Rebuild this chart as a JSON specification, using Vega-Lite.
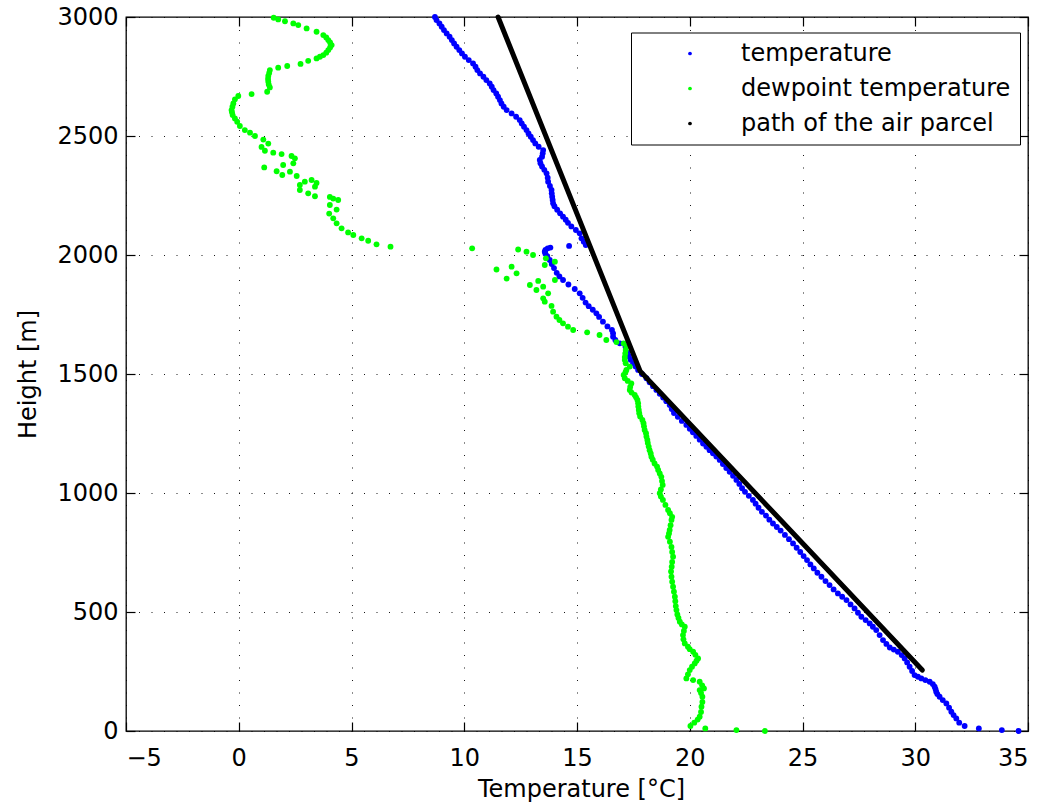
{
  "$schema": "https://vega.github.io/schema/vega-lite/v6.json",
  "width": 902,
  "height": 714,
  "autosize": {"type": "none"},
  "padding": {"left": 126, "top": 17, "right": 21, "bottom": 81},
  "background": "white",
  "config": {
    "view": {"stroke": "#000000", "strokeWidth": 1.3},
    "font": "DejaVu Sans",
    "axis": {
      "domain": false,
      "labelFont": "DejaVu Sans",
      "labelFontSize": 24,
      "labelColor": "#000000",
      "titleFont": "DejaVu Sans",
      "titleFontSize": 24,
      "titleFontWeight": "normal",
      "titleColor": "#000000",
      "tickColor": "#000000",
      "tickWidth": 1.2,
      "tickSize": -9,
      "gridColor": "#000000",
      "gridDash": [1, 11.5],
      "gridWidth": 1,
      "gridOpacity": 0.9
    }
  },
  "datasets": {
    "pts": [
      {"s":"temperature","T":34.58,"h":0},{"s":"temperature","T":33.84,"h":4},{"s":"temperature","T":32.82,"h":11},{"s":"temperature","T":32.19,"h":21},
      {"s":"temperature","T":31.95,"h":35},{"s":"temperature","T":31.82,"h":53},{"s":"temperature","T":31.7,"h":67},{"s":"temperature","T":31.6,"h":81},
      {"s":"temperature","T":31.5,"h":98},{"s":"temperature","T":31.38,"h":116},{"s":"temperature","T":31.22,"h":130},{"s":"temperature","T":31.08,"h":144},
      {"s":"temperature","T":30.98,"h":155},{"s":"temperature","T":30.93,"h":165},{"s":"temperature","T":30.9,"h":176},{"s":"temperature","T":30.86,"h":186},
      {"s":"temperature","T":30.78,"h":197},{"s":"temperature","T":30.64,"h":207},{"s":"temperature","T":30.45,"h":214},{"s":"temperature","T":30.27,"h":221},
      {"s":"temperature","T":30.12,"h":228},{"s":"temperature","T":29.97,"h":235},{"s":"temperature","T":29.86,"h":252},{"s":"temperature","T":29.75,"h":270},
      {"s":"temperature","T":29.64,"h":288},{"s":"temperature","T":29.53,"h":305},{"s":"temperature","T":29.4,"h":319},{"s":"temperature","T":29.23,"h":333},
      {"s":"temperature","T":29.05,"h":342},{"s":"temperature","T":28.87,"h":351},{"s":"temperature","T":28.72,"h":366},{"s":"temperature","T":28.57,"h":382},
      {"s":"temperature","T":28.42,"h":403},{"s":"temperature","T":28.27,"h":424},{"s":"temperature","T":28.12,"h":438},{"s":"temperature","T":27.98,"h":452},
      {"s":"temperature","T":27.8,"h":466},{"s":"temperature","T":27.61,"h":480},{"s":"temperature","T":27.46,"h":497},{"s":"temperature","T":27.31,"h":515},
      {"s":"temperature","T":27.13,"h":532},{"s":"temperature","T":26.95,"h":550},{"s":"temperature","T":26.76,"h":564},{"s":"temperature","T":26.57,"h":578},
      {"s":"temperature","T":26.38,"h":595},{"s":"temperature","T":26.2,"h":613},{"s":"temperature","T":26.02,"h":630},{"s":"temperature","T":25.84,"h":648},
      {"s":"temperature","T":25.66,"h":665},{"s":"temperature","T":25.5,"h":683},{"s":"temperature","T":25.35,"h":700},{"s":"temperature","T":25.2,"h":718},
      {"s":"temperature","T":25.05,"h":735},{"s":"temperature","T":24.9,"h":752},{"s":"temperature","T":24.74,"h":770},{"s":"temperature","T":24.58,"h":788},
      {"s":"temperature","T":24.4,"h":806},{"s":"temperature","T":24.22,"h":824},{"s":"temperature","T":24.03,"h":842},{"s":"temperature","T":23.86,"h":857},
      {"s":"temperature","T":23.69,"h":872},{"s":"temperature","T":23.53,"h":888},{"s":"temperature","T":23.38,"h":905},{"s":"temperature","T":23.2,"h":921},
      {"s":"temperature","T":23.05,"h":938},{"s":"temperature","T":22.92,"h":955},{"s":"temperature","T":22.8,"h":971},{"s":"temperature","T":22.62,"h":988},
      {"s":"temperature","T":22.45,"h":1005},{"s":"temperature","T":22.32,"h":1020},{"s":"temperature","T":22.2,"h":1038},{"s":"temperature","T":22.07,"h":1055},
      {"s":"temperature","T":21.92,"h":1072},{"s":"temperature","T":21.77,"h":1089},{"s":"temperature","T":21.62,"h":1105},{"s":"temperature","T":21.47,"h":1122},
      {"s":"temperature","T":21.33,"h":1139},{"s":"temperature","T":21.18,"h":1153},{"s":"temperature","T":21.03,"h":1167},{"s":"temperature","T":20.88,"h":1180},
      {"s":"temperature","T":20.74,"h":1194},{"s":"temperature","T":20.59,"h":1208},{"s":"temperature","T":20.44,"h":1224},{"s":"temperature","T":20.29,"h":1240},
      {"s":"temperature","T":20.14,"h":1255},{"s":"temperature","T":20.0,"h":1270},{"s":"temperature","T":19.85,"h":1286},{"s":"temperature","T":19.65,"h":1303},
      {"s":"temperature","T":19.47,"h":1320},{"s":"temperature","T":19.3,"h":1336},{"s":"temperature","T":19.2,"h":1353},{"s":"temperature","T":19.11,"h":1370},
      {"s":"temperature","T":18.96,"h":1386},{"s":"temperature","T":18.82,"h":1401},{"s":"temperature","T":18.67,"h":1417},{"s":"temperature","T":18.52,"h":1433},
      {"s":"temperature","T":18.37,"h":1449},{"s":"temperature","T":18.22,"h":1465},{"s":"temperature","T":18.08,"h":1482},{"s":"temperature","T":17.88,"h":1500},
      {"s":"temperature","T":17.71,"h":1517},{"s":"temperature","T":17.6,"h":1531},{"s":"temperature","T":17.49,"h":1545},{"s":"temperature","T":17.38,"h":1560},
      {"s":"temperature","T":17.3,"h":1575},{"s":"temperature","T":17.25,"h":1590},{"s":"temperature","T":17.15,"h":1615},{"s":"temperature","T":16.9,"h":1629},
      {"s":"temperature","T":16.7,"h":1643},{"s":"temperature","T":16.6,"h":1657},{"s":"temperature","T":16.6,"h":1671},{"s":"temperature","T":16.55,"h":1685},
      {"s":"temperature","T":16.35,"h":1700},{"s":"temperature","T":16.15,"h":1720},{"s":"temperature","T":15.98,"h":1740},{"s":"temperature","T":15.86,"h":1755},
      {"s":"temperature","T":15.7,"h":1770},{"s":"temperature","T":15.52,"h":1785},{"s":"temperature","T":15.38,"h":1800},{"s":"temperature","T":15.25,"h":1820},
      {"s":"temperature","T":15.12,"h":1839},{"s":"temperature","T":14.9,"h":1857},{"s":"temperature","T":14.62,"h":1876},{"s":"temperature","T":14.38,"h":1895},
      {"s":"temperature","T":14.22,"h":1910},{"s":"temperature","T":14.1,"h":1925},{"s":"temperature","T":13.98,"h":1945},{"s":"temperature","T":13.88,"h":1962},
      {"s":"temperature","T":13.79,"h":1979},{"s":"temperature","T":13.68,"h":1995},{"s":"temperature","T":13.6,"h":2005},{"s":"temperature","T":13.57,"h":2014},
      {"s":"temperature","T":13.6,"h":2021},{"s":"temperature","T":13.7,"h":2028},{"s":"temperature","T":13.82,"h":2031},{"s":"temperature","T":14.65,"h":2038},
      {"s":"temperature","T":15.39,"h":2042},{"s":"temperature","T":15.3,"h":2056},{"s":"temperature","T":15.2,"h":2070},{"s":"temperature","T":15.12,"h":2091},
      {"s":"temperature","T":14.95,"h":2105},{"s":"temperature","T":14.75,"h":2120},{"s":"temperature","T":14.6,"h":2135},{"s":"temperature","T":14.5,"h":2148},
      {"s":"temperature","T":14.38,"h":2161},{"s":"temperature","T":14.25,"h":2175},{"s":"temperature","T":14.12,"h":2190},{"s":"temperature","T":14.0,"h":2205},
      {"s":"temperature","T":13.94,"h":2217},{"s":"temperature","T":13.92,"h":2231},{"s":"temperature","T":13.9,"h":2245},{"s":"temperature","T":13.88,"h":2259},
      {"s":"temperature","T":13.87,"h":2273},{"s":"temperature","T":13.8,"h":2290},{"s":"temperature","T":13.72,"h":2308},{"s":"temperature","T":13.7,"h":2325},
      {"s":"temperature","T":13.65,"h":2343},{"s":"temperature","T":13.55,"h":2358},{"s":"temperature","T":13.45,"h":2372},{"s":"temperature","T":13.38,"h":2386},
      {"s":"temperature","T":13.35,"h":2399},{"s":"temperature","T":13.45,"h":2413},{"s":"temperature","T":13.48,"h":2427},{"s":"temperature","T":13.5,"h":2441},
      {"s":"temperature","T":13.3,"h":2455},{"s":"temperature","T":13.15,"h":2469},{"s":"temperature","T":13.05,"h":2483},{"s":"temperature","T":12.95,"h":2497},
      {"s":"temperature","T":12.85,"h":2511},{"s":"temperature","T":12.76,"h":2525},{"s":"temperature","T":12.65,"h":2539},{"s":"temperature","T":12.55,"h":2553},
      {"s":"temperature","T":12.46,"h":2567},{"s":"temperature","T":12.3,"h":2581},{"s":"temperature","T":12.1,"h":2595},{"s":"temperature","T":11.88,"h":2609},
      {"s":"temperature","T":11.75,"h":2623},{"s":"temperature","T":11.65,"h":2637},{"s":"temperature","T":11.58,"h":2651},{"s":"temperature","T":11.5,"h":2665},
      {"s":"temperature","T":11.42,"h":2679},{"s":"temperature","T":11.3,"h":2693},{"s":"temperature","T":11.22,"h":2707},{"s":"temperature","T":11.13,"h":2721},
      {"s":"temperature","T":10.98,"h":2735},{"s":"temperature","T":10.85,"h":2749},{"s":"temperature","T":10.7,"h":2763},{"s":"temperature","T":10.58,"h":2777},
      {"s":"temperature","T":10.5,"h":2791},{"s":"temperature","T":10.39,"h":2805},{"s":"temperature","T":10.2,"h":2819},{"s":"temperature","T":10.03,"h":2833},
      {"s":"temperature","T":9.9,"h":2847},{"s":"temperature","T":9.78,"h":2861},{"s":"temperature","T":9.66,"h":2875},{"s":"temperature","T":9.55,"h":2889},
      {"s":"temperature","T":9.45,"h":2903},{"s":"temperature","T":9.35,"h":2917},{"s":"temperature","T":9.22,"h":2931},{"s":"temperature","T":9.1,"h":2945},
      {"s":"temperature","T":9.0,"h":2959},{"s":"temperature","T":8.9,"h":2973},{"s":"temperature","T":8.77,"h":2987},{"s":"temperature","T":8.7,"h":3000},
      {"s":"dewpoint temperature","T":23.33,"h":0},{"s":"dewpoint temperature","T":22.07,"h":4},{"s":"dewpoint temperature","T":20.69,"h":11},{"s":"dewpoint temperature","T":20.03,"h":21},
      {"s":"dewpoint temperature","T":20.2,"h":35},{"s":"dewpoint temperature","T":20.35,"h":48},{"s":"dewpoint temperature","T":20.44,"h":60},{"s":"dewpoint temperature","T":20.5,"h":80},
      {"s":"dewpoint temperature","T":20.52,"h":102},{"s":"dewpoint temperature","T":20.56,"h":122},{"s":"dewpoint temperature","T":20.56,"h":144},{"s":"dewpoint temperature","T":20.5,"h":160},
      {"s":"dewpoint temperature","T":20.44,"h":172},{"s":"dewpoint temperature","T":20.63,"h":179},{"s":"dewpoint temperature","T":20.55,"h":192},{"s":"dewpoint temperature","T":20.44,"h":207},
      {"s":"dewpoint temperature","T":20.15,"h":214},{"s":"dewpoint temperature","T":19.85,"h":221},{"s":"dewpoint temperature","T":19.92,"h":238},{"s":"dewpoint temperature","T":20.0,"h":256},
      {"s":"dewpoint temperature","T":20.1,"h":270},{"s":"dewpoint temperature","T":20.22,"h":284},{"s":"dewpoint temperature","T":20.3,"h":295},{"s":"dewpoint temperature","T":20.37,"h":305},
      {"s":"dewpoint temperature","T":20.25,"h":320},{"s":"dewpoint temperature","T":20.15,"h":333},{"s":"dewpoint temperature","T":20.0,"h":344},{"s":"dewpoint temperature","T":19.92,"h":354},
      {"s":"dewpoint temperature","T":19.78,"h":368},{"s":"dewpoint temperature","T":19.72,"h":385},{"s":"dewpoint temperature","T":19.7,"h":403},{"s":"dewpoint temperature","T":19.74,"h":420},
      {"s":"dewpoint temperature","T":19.78,"h":438},{"s":"dewpoint temperature","T":19.65,"h":448},{"s":"dewpoint temperature","T":19.56,"h":459},{"s":"dewpoint temperature","T":19.5,"h":475},
      {"s":"dewpoint temperature","T":19.45,"h":490},{"s":"dewpoint temperature","T":19.41,"h":508},{"s":"dewpoint temperature","T":19.38,"h":525},{"s":"dewpoint temperature","T":19.36,"h":545},
      {"s":"dewpoint temperature","T":19.34,"h":564},{"s":"dewpoint temperature","T":19.3,"h":585},{"s":"dewpoint temperature","T":19.26,"h":606},{"s":"dewpoint temperature","T":19.22,"h":627},
      {"s":"dewpoint temperature","T":19.19,"h":648},{"s":"dewpoint temperature","T":19.17,"h":670},{"s":"dewpoint temperature","T":19.2,"h":690},{"s":"dewpoint temperature","T":19.22,"h":710},
      {"s":"dewpoint temperature","T":19.26,"h":732},{"s":"dewpoint temperature","T":19.22,"h":752},{"s":"dewpoint temperature","T":19.19,"h":773},{"s":"dewpoint temperature","T":19.12,"h":795},
      {"s":"dewpoint temperature","T":19.04,"h":816},{"s":"dewpoint temperature","T":19.08,"h":830},{"s":"dewpoint temperature","T":19.11,"h":845},{"s":"dewpoint temperature","T":19.15,"h":865},
      {"s":"dewpoint temperature","T":19.19,"h":887},{"s":"dewpoint temperature","T":19.22,"h":900},{"s":"dewpoint temperature","T":19.12,"h":915},{"s":"dewpoint temperature","T":19.04,"h":929},
      {"s":"dewpoint temperature","T":18.92,"h":950},{"s":"dewpoint temperature","T":18.81,"h":971},{"s":"dewpoint temperature","T":18.72,"h":985},{"s":"dewpoint temperature","T":18.67,"h":999},
      {"s":"dewpoint temperature","T":18.72,"h":1015},{"s":"dewpoint temperature","T":18.8,"h":1034},{"s":"dewpoint temperature","T":18.77,"h":1050},{"s":"dewpoint temperature","T":18.74,"h":1068},
      {"s":"dewpoint temperature","T":18.67,"h":1082},{"s":"dewpoint temperature","T":18.6,"h":1097},{"s":"dewpoint temperature","T":18.55,"h":1111},{"s":"dewpoint temperature","T":18.44,"h":1124},
      {"s":"dewpoint temperature","T":18.36,"h":1140},{"s":"dewpoint temperature","T":18.3,"h":1152},{"s":"dewpoint temperature","T":18.27,"h":1166},{"s":"dewpoint temperature","T":18.22,"h":1180},
      {"s":"dewpoint temperature","T":18.18,"h":1195},{"s":"dewpoint temperature","T":18.14,"h":1210},{"s":"dewpoint temperature","T":18.12,"h":1223},{"s":"dewpoint temperature","T":18.08,"h":1237},
      {"s":"dewpoint temperature","T":18.06,"h":1251},{"s":"dewpoint temperature","T":18.0,"h":1265},{"s":"dewpoint temperature","T":17.97,"h":1280},{"s":"dewpoint temperature","T":17.95,"h":1293},
      {"s":"dewpoint temperature","T":17.9,"h":1307},{"s":"dewpoint temperature","T":17.8,"h":1321},{"s":"dewpoint temperature","T":17.76,"h":1335},{"s":"dewpoint temperature","T":17.74,"h":1349},
      {"s":"dewpoint temperature","T":17.72,"h":1363},{"s":"dewpoint temperature","T":17.71,"h":1377},{"s":"dewpoint temperature","T":17.68,"h":1391},{"s":"dewpoint temperature","T":17.62,"h":1402},
      {"s":"dewpoint temperature","T":17.56,"h":1412},{"s":"dewpoint temperature","T":17.42,"h":1422},{"s":"dewpoint temperature","T":17.34,"h":1433},{"s":"dewpoint temperature","T":17.36,"h":1446},
      {"s":"dewpoint temperature","T":17.41,"h":1460},{"s":"dewpoint temperature","T":17.25,"h":1471},{"s":"dewpoint temperature","T":17.12,"h":1482},{"s":"dewpoint temperature","T":17.07,"h":1496},
      {"s":"dewpoint temperature","T":17.15,"h":1508},{"s":"dewpoint temperature","T":17.19,"h":1517},{"s":"dewpoint temperature","T":17.34,"h":1531},{"s":"dewpoint temperature","T":17.16,"h":1545},
      {"s":"dewpoint temperature","T":17.12,"h":1559},{"s":"dewpoint temperature","T":17.12,"h":1571},{"s":"dewpoint temperature","T":17.14,"h":1586},{"s":"dewpoint temperature","T":17.16,"h":1601},
      {"s":"dewpoint temperature","T":17.19,"h":1615},{"s":"dewpoint temperature","T":17.07,"h":1629},{"s":"dewpoint temperature","T":16.75,"h":1634},{"s":"dewpoint temperature","T":16.3,"h":1643},
      {"s":"dewpoint temperature","T":16.0,"h":1664},{"s":"dewpoint temperature","T":15.45,"h":1675},{"s":"dewpoint temperature","T":14.83,"h":1685},{"s":"dewpoint temperature","T":14.6,"h":1699},
      {"s":"dewpoint temperature","T":14.38,"h":1713},{"s":"dewpoint temperature","T":14.22,"h":1727},{"s":"dewpoint temperature","T":14.09,"h":1741},{"s":"dewpoint temperature","T":13.94,"h":1762},
      {"s":"dewpoint temperature","T":13.87,"h":1786},{"s":"dewpoint temperature","T":13.57,"h":1804},{"s":"dewpoint temperature","T":13.5,"h":1818},{"s":"dewpoint temperature","T":13.72,"h":1839},
      {"s":"dewpoint temperature","T":13.2,"h":1853},{"s":"dewpoint temperature","T":13.5,"h":1867},{"s":"dewpoint temperature","T":12.91,"h":1874},{"s":"dewpoint temperature","T":13.28,"h":1891},
      {"s":"dewpoint temperature","T":14.02,"h":1895},{"s":"dewpoint temperature","T":11.88,"h":1901},{"s":"dewpoint temperature","T":12.32,"h":1923},{"s":"dewpoint temperature","T":11.43,"h":1939},
      {"s":"dewpoint temperature","T":12.1,"h":1951},{"s":"dewpoint temperature","T":13.57,"h":1958},{"s":"dewpoint temperature","T":14.02,"h":1972},{"s":"dewpoint temperature","T":13.62,"h":1986},
      {"s":"dewpoint temperature","T":13.05,"h":2000},{"s":"dewpoint temperature","T":12.76,"h":2014},{"s":"dewpoint temperature","T":12.39,"h":2023},{"s":"dewpoint temperature","T":10.35,"h":2028},
      {"s":"dewpoint temperature","T":6.73,"h":2035},{"s":"dewpoint temperature","T":6.11,"h":2045},{"s":"dewpoint temperature","T":5.74,"h":2060},{"s":"dewpoint temperature","T":5.45,"h":2070},
      {"s":"dewpoint temperature","T":5.08,"h":2084},{"s":"dewpoint temperature","T":4.85,"h":2095},{"s":"dewpoint temperature","T":4.56,"h":2112},{"s":"dewpoint temperature","T":4.34,"h":2133},
      {"s":"dewpoint temperature","T":4.19,"h":2154},{"s":"dewpoint temperature","T":4.01,"h":2174},{"s":"dewpoint temperature","T":4.34,"h":2191},{"s":"dewpoint temperature","T":4.04,"h":2210},
      {"s":"dewpoint temperature","T":4.41,"h":2231},{"s":"dewpoint temperature","T":4.19,"h":2237},{"s":"dewpoint temperature","T":4.04,"h":2244},{"s":"dewpoint temperature","T":3.38,"h":2247},
      {"s":"dewpoint temperature","T":3.08,"h":2259},{"s":"dewpoint temperature","T":2.71,"h":2273},{"s":"dewpoint temperature","T":3.38,"h":2287},{"s":"dewpoint temperature","T":2.71,"h":2294},
      {"s":"dewpoint temperature","T":3.45,"h":2303},{"s":"dewpoint temperature","T":2.93,"h":2308},{"s":"dewpoint temperature","T":3.23,"h":2315},{"s":"dewpoint temperature","T":2.57,"h":2332},
      {"s":"dewpoint temperature","T":1.93,"h":2336},{"s":"dewpoint temperature","T":2.27,"h":2350},{"s":"dewpoint temperature","T":1.68,"h":2352},{"s":"dewpoint temperature","T":1.13,"h":2368},
      {"s":"dewpoint temperature","T":1.97,"h":2378},{"s":"dewpoint temperature","T":2.42,"h":2385},{"s":"dewpoint temperature","T":2.49,"h":2406},{"s":"dewpoint temperature","T":2.34,"h":2416},
      {"s":"dewpoint temperature","T":1.9,"h":2424},{"s":"dewpoint temperature","T":1.53,"h":2430},{"s":"dewpoint temperature","T":1.16,"h":2438},{"s":"dewpoint temperature","T":1.01,"h":2454},
      {"s":"dewpoint temperature","T":1.31,"h":2468},{"s":"dewpoint temperature","T":1.09,"h":2485},{"s":"dewpoint temperature","T":0.72,"h":2500},{"s":"dewpoint temperature","T":0.5,"h":2514},
      {"s":"dewpoint temperature","T":0.27,"h":2525},{"s":"dewpoint temperature","T":0.05,"h":2542},{"s":"dewpoint temperature","T":-0.07,"h":2560},{"s":"dewpoint temperature","T":-0.17,"h":2574},
      {"s":"dewpoint temperature","T":-0.27,"h":2588},{"s":"dewpoint temperature","T":-0.3,"h":2600},{"s":"dewpoint temperature","T":-0.32,"h":2609},{"s":"dewpoint temperature","T":-0.28,"h":2623},
      {"s":"dewpoint temperature","T":-0.24,"h":2637},{"s":"dewpoint temperature","T":-0.17,"h":2654},{"s":"dewpoint temperature","T":-0.02,"h":2668},{"s":"dewpoint temperature","T":0.57,"h":2676},
      {"s":"dewpoint temperature","T":1.26,"h":2686},{"s":"dewpoint temperature","T":1.38,"h":2704},{"s":"dewpoint temperature","T":1.33,"h":2716},{"s":"dewpoint temperature","T":1.31,"h":2728},
      {"s":"dewpoint temperature","T":1.3,"h":2740},{"s":"dewpoint temperature","T":1.31,"h":2752},{"s":"dewpoint temperature","T":1.35,"h":2765},{"s":"dewpoint temperature","T":1.38,"h":2777},
      {"s":"dewpoint temperature","T":1.75,"h":2787},{"s":"dewpoint temperature","T":2.15,"h":2794},{"s":"dewpoint temperature","T":2.74,"h":2803},{"s":"dewpoint temperature","T":3.08,"h":2816},
      {"s":"dewpoint temperature","T":3.45,"h":2826},{"s":"dewpoint temperature","T":3.6,"h":2833},{"s":"dewpoint temperature","T":3.75,"h":2840},{"s":"dewpoint temperature","T":3.88,"h":2850},
      {"s":"dewpoint temperature","T":3.97,"h":2861},{"s":"dewpoint temperature","T":4.05,"h":2872},{"s":"dewpoint temperature","T":4.12,"h":2882},{"s":"dewpoint temperature","T":4.05,"h":2893},
      {"s":"dewpoint temperature","T":3.97,"h":2903},{"s":"dewpoint temperature","T":3.88,"h":2914},{"s":"dewpoint temperature","T":3.75,"h":2924},{"s":"dewpoint temperature","T":3.45,"h":2938},
      {"s":"dewpoint temperature","T":3.01,"h":2952},{"s":"dewpoint temperature","T":2.64,"h":2966},{"s":"dewpoint temperature","T":2.42,"h":2973},{"s":"dewpoint temperature","T":2.05,"h":2982},
      {"s":"dewpoint temperature","T":1.75,"h":2990},{"s":"dewpoint temperature","T":1.55,"h":2997}
    ],
    "path": [
      {"T":30.31,"h":256},{"T":17.8,"h":1512},{"T":11.5,"h":3000}
    ]
  },
  "layer": [
    {
      "data": {"name": "pts"},
      "mark": {"type": "point", "filled": true, "size": 34, "opacity": 1, "shape": "circle"},
      "encoding": {
        "x": {"field": "T", "type": "quantitative",
              "scale": {"domain": [-5, 35], "nice": false, "zero": false},
              "axis": {"orient": "bottom", "values": [-5,0,5,10,15,20,25,30,35], "grid": true,
                       "labelPadding": 24, "title": "Temperature [°C]",
                       "titleX": 455, "titleY": 65, "titleBaseline": "alphabetic", "titleAnchor": null, "titleAlign": "center"}},
        "y": {"field": "h", "type": "quantitative",
              "scale": {"domain": [0, 3000], "nice": false, "zero": false},
              "axis": {"orient": "left", "values": [0,500,1000,1500,2000,2500,3000], "grid": true, "format": "d",
                       "labelPadding": 17, "title": "Height [m]", "titleAngle": -90,
                       "titleX": -91, "titleY": 357, "titleBaseline": "alphabetic", "titleAlign": "center", "titleAnchor": null}},
        "color": {"field": "s", "type": "nominal",
                  "scale": {"domain": ["temperature", "dewpoint temperature", "path of the air parcel"],
                            "range": ["#0000ff", "#00ff00", "#000000"]},
                  "legend": {"orient": "none", "legendX": 505, "legendY": 15.5, "title": null,
                             "direction": "vertical", "strokeColor": "#000000", "fillColor": "#ffffff",
                             "padding": 9, "symbolType": "circle", "symbolSize": 14, "symbolOffset": 38,
                             "labelOffset": 39, "labelFontSize": 24, "labelFont": "DejaVu Sans", "labelLimit": 600,
                             "labelColor": "#000000", "rowPadding": 11, "symbolStrokeWidth": 0}}
      }
    },
    {
      "data": {"name": "path"},
      "mark": {"type": "line", "color": "#000000", "strokeWidth": 5, "strokeCap": "round", "strokeJoin": "round"},
      "encoding": {
        "x": {"field": "T", "type": "quantitative",
              "scale": {"domain": [-5, 35], "nice": false, "zero": false},
              "axis": {"orient": "top", "values": [-5,0,5,10,15,20,25,30,35], "labels": false, "grid": false, "title": null}},
        "y": {"field": "h", "type": "quantitative",
              "scale": {"domain": [0, 3000], "nice": false, "zero": false},
              "axis": {"orient": "right", "values": [0,500,1000,1500,2000,2500,3000], "labels": false, "grid": false, "title": null}}
      }
    }
  ],
  "resolve": {"axis": {"x": "independent", "y": "independent"}}
}
